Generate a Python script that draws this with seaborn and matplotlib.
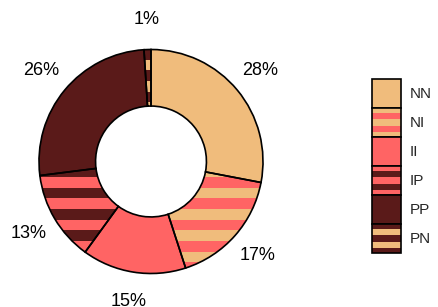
import numpy as np
import matplotlib.pyplot as plt
import seaborn as sns
from matplotlib.patches import Rectangle
from matplotlib.legend_handler import HandlerBase

# data
categories = ['NN', 'NI', 'II', 'IP', 'PP', 'PN']
shares = [28, 17, 15, 13, 26, 1]

orange = '#F0BC7C'
salmon = '#FF6464'
dark = '#5A1A19'

# pie: face colour and the colour of the horizontal bands drawn over it
face_colors = [orange, orange, salmon, dark, dark, orange]
band_colors = [None, salmon, None, salmon, None, dark]

# legend: base colour and stripe colour
legend_base = [orange, orange, salmon, salmon, dark, dark]
legend_stripe = [None, salmon, None, dark, None, orange]

sns.set_style('white')
plt.rcParams['font.family'] = ['Liberation Sans', 'DejaVu Sans']

W, H = 438, 307
fig = plt.figure(figsize=(W / 100, H / 100), dpi=100)

# pie radius 112 px, centre at (151, 161.5) px
R_px = 112
lim = 1.35
size = 2 * lim * R_px
ax = fig.add_axes([(151 - size / 2) / W, (H - 161.5 - size / 2) / H, size / W, size / H])

wedges, texts, autotexts = ax.pie(
    shares, colors=face_colors, startangle=90, counterclock=False,
    autopct='%.0f%%', pctdistance=1.27,
    wedgeprops=dict(width=0.505, linewidth=0),
    textprops=dict(fontsize=13, color='black'))

# horizontal stripes clipped to the striped wedges
period = 21.3 / R_px
y0 = -0.138
for w, c in zip(wedges, band_colors):
    if c is None:
        continue
    for k in range(-6, 8):
        top = y0 + k * period
        span = ax.axhspan(top - period / 2, top, facecolor=c, linewidth=0, zorder=2)
        span.set_clip_path(w)

# outlines on top
ax.pie(shares, startangle=90, counterclock=False,
       wedgeprops=dict(width=0.505, fill=False, edgecolor='black',
                       linewidth=1.2, zorder=3))

ax.set_xlim(-lim, lim)
ax.set_ylim(-lim, lim)
ax.set_aspect('equal')
ax.axis('off')


class StripeHandler(HandlerBase):
    def __init__(self, base, stripe):
        super().__init__()
        self.base = base
        self.stripe = stripe

    def create_artists(self, legend, orig_handle, xdescent, ydescent,
                       width, height, fontsize, trans):
        x0, yb = -xdescent, -ydescent
        arts = [Rectangle((x0, yb), width, height, facecolor=self.base,
                          edgecolor='none', transform=trans)]
        if self.stripe:
            for f0, f1 in [(0.16, 0.38), (0.61, 0.83)]:
                arts.append(Rectangle((x0, yb + height * (1 - f1)), width,
                                      height * (f1 - f0), facecolor=self.stripe,
                                      edgecolor='none', transform=trans))
        arts.append(Rectangle((x0, yb), width, height, fill=False,
                              edgecolor='black', linewidth=1.2, transform=trans))
        return arts


handles = [Rectangle((0, 0), 1, 1) for _ in categories]
hmap = {h: StripeHandler(b, s) for h, b, s in zip(handles, legend_base, legend_stripe)}

# legend boxes 29 x 29 px
leg_fs = 11
box_pt = 29 * 72 / 100
hlen = box_pt / leg_fs
hheight = (box_pt / leg_fs - 0.245) / 0.65
fig.legend(handles, categories, handler_map=hmap, loc='upper left',
           bbox_to_anchor=(372 / W, 1 - 79 / H), frameon=False, fontsize=leg_fs,
           handlelength=hlen, handleheight=hheight, labelspacing=0,
           handletextpad=0.55, borderpad=0, borderaxespad=0)

fig.savefig('out.png', dpi=100)
